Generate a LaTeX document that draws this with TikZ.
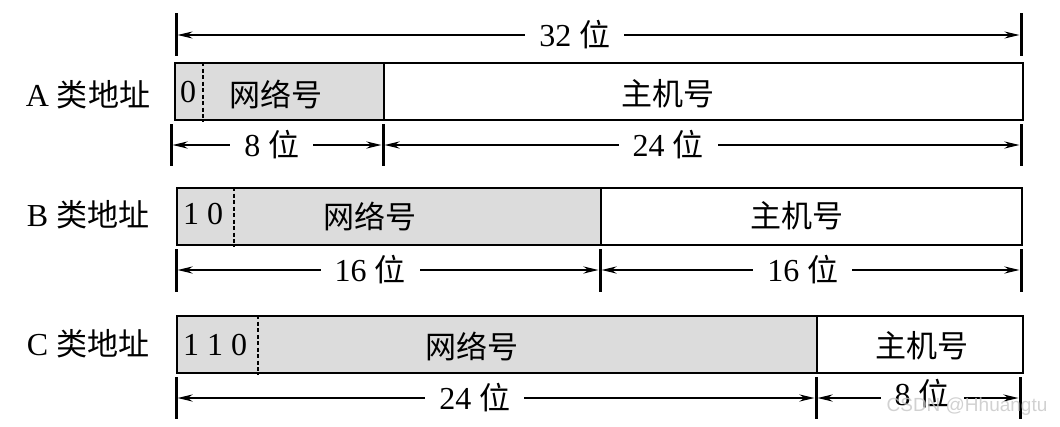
\documentclass[tikz,border=0pt]{standalone}
\usepackage{fontspec}
\setmainfont{Liberation Serif}
\newfontfamily\cjk[Scale=0.97]{Noto Sans CJK SC}
\newfontfamily\wmfont{Liberation Sans}
\usetikzlibrary{arrows.meta}
\definecolor{netgray}{HTML}{DCDCDC}
\begin{document}
\begin{tikzpicture}[x=1pt,y=-1pt,
  field/.style={draw=black, line width=2pt, minimum height=57pt, inner sep=0pt, anchor=north west},
  netf/.style={field, fill=netgray},
  sepline/.style={line width=1.6pt, dash pattern=on 4pt off 2.5pt},
  tickline/.style={line width=3pt},
  dim/.style={line width=2.2pt, shorten <=1.5pt, shorten >=1.5pt, {Stealth[length=15pt,width=7pt]}-{Stealth[length=15pt,width=7pt]}},
  lab/.style={font=\fontsize{32}{38}\selectfont, inner sep=0pt},
  dimlab/.style={lab, fill=white, inner xsep=14pt, inner ysep=3pt},
]
\useasboundingbox (0,0) rectangle (1060,426);

% ---------- top 32 bits ----------
\coordinate (p0) at (176,35);
\coordinate (p1) at (1021,35);
\foreach \c in {p0,p1} \draw[tickline] ([yshift=22pt]\c) -- ([yshift=-21pt]\c);
\draw[dim, line width=1.5pt] (p0) -- (p1) node[dimlab, pos=0.472] {32 {\cjk 位}};

% ---------- A ----------
\node[lab] (alab) at (88,95) {A {\cjk 类地址}};
\node[netf, minimum width=209pt] (anet) at (174,62) {};
\node[field, minimum width=639pt] (ahost) at (383,62) {};
\draw[sepline] ([xshift=29pt]anet.north west) -- ([xshift=29pt]anet.south west);
\node[lab] (a0) at (188,92) {0};
\node[lab] (anettxt) at (276,94) {\cjk 网络号};
\node[lab] (ahosttxt) at (668,94) {\cjk 主机号};

\coordinate (q0) at (171,145);
\coordinate (q1) at (383,145);
\coordinate (q2) at (1021,145);
\foreach \c in {q0,q1,q2} \draw[tickline] ([yshift=21pt]\c) -- ([yshift=-21pt]\c);
\draw[dim] (q0) -- (q1) node[dimlab, pos=0.476] {8 {\cjk 位}};
\draw[dim] (q1) -- (q2) node[dimlab, pos=0.447] {24 {\cjk 位}};

% ---------- B ----------
\node[lab] (blab) at (88,215) {B {\cjk 类地址}};
\node[netf, minimum width=424pt] (bnet) at (176,187) {};
\node[field, minimum width=421pt] (bhost) at (600,187) {};
\draw[sepline] ([xshift=58pt]bnet.north west) -- ([xshift=58pt]bnet.south west);
\node[lab] (b10) at (203,214) {1 0};
\node[lab] (bnettxt) at (370,216) {\cjk 网络号};
\node[lab] (bhosttxt) at (797,216) {\cjk 主机号};

\coordinate (r0) at (176,270);
\coordinate (r1) at (600,270);
\coordinate (r2) at (1021,270);
\foreach \c in {r0,r1,r2} \draw[tickline] ([yshift=21pt]\c) -- ([yshift=-22pt]\c);
\draw[dim] (r0) -- (r1) node[dimlab, pos=0.458] {16 {\cjk 位}};
\draw[dim] (r1) -- (r2) node[dimlab, pos=0.482] {16 {\cjk 位}};

% ---------- C ----------
\node[lab] (clab) at (88,344) {C {\cjk 类地址}};
\node[netf, minimum width=640pt] (cnet) at (176,315) {};
\node[field, minimum width=206pt] (chost) at (816,315) {};
\draw[sepline] ([xshift=82pt]cnet.north west) -- ([xshift=82pt]cnet.south west);
\node[lab] (c110) at (215,345) {1 1 0};
\node[lab] (cnettxt) at (472,346) {\cjk 网络号};
\node[lab] (chosttxt) at (922,346) {\cjk 主机号};

\coordinate (s0) at (176,398);
\coordinate (s1) at (816,398);
\coordinate (s2) at (1020,398);
\foreach \c in {s0,s1,s2} \draw[tickline] ([yshift=21pt]\c) -- ([yshift=-21pt]\c);
\draw[dim] (s0) -- (s1) node[dimlab, pos=0.467] {24 {\cjk 位}};
\draw[dim] (s1) -- (s2) node[dimlab, pos=0.52, yshift=4pt] {8 {\cjk 位}};

% watermark
\node[text=gray!45, opacity=0.8, font=\wmfont\fontsize{19}{22}\selectfont, inner sep=0pt] (wm) at (967,407) {CSDN @Hhuangtu};
\end{tikzpicture}
\end{document}
